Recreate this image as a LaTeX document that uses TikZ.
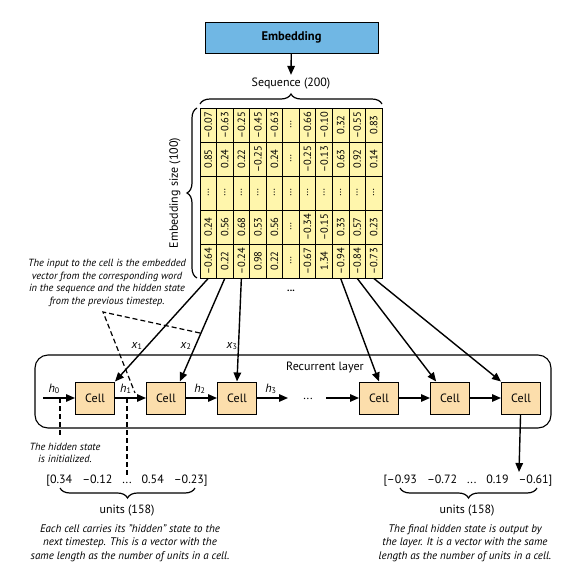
\documentclass[tikz,border=0pt]{standalone}
\usepackage{fontspec}
\setmainfont{PT Sans}
\usetikzlibrary{positioning,arrows.meta,decorations.pathreplacing}

\definecolor{embblue}{RGB}{112,183,228}
\definecolor{gridyellow}{RGB}{255,246,172}
\definecolor{cellpeach}{RGB}{252,222,172}

\begin{document}
\begin{tikzpicture}[x=1pt,y=-1pt,node distance=71pt,on grid,
   >={Triangle[length=9pt,width=7.5pt]},
   flow/.style={->,line width=1.4pt},
   cell/.style={draw,line width=1pt,fill=cellpeach,minimum width=39pt,minimum height=32pt,
     font=\fontsize{12}{14}\selectfont},
   num/.style={draw,line width=0.7pt,fill=gridyellow,inner sep=0pt,minimum width=16.55pt,
     minimum height=34pt,font=\fontsize{10.5}{12}\selectfont},
   note/.style={align=center,font=\fontsize{10.4}{12.6}\selectfont\itshape},
   txt/.style={font=\fontsize{12}{14}\selectfont},
   brace/.style={decorate,decoration={brace,amplitude=10pt},line width=1.2pt},
   hint/.style={dashed,line width=1.2pt,dash pattern=on 5pt off 3pt}]
   \useasboundingbox (0,0) rectangle (571,573);

   % embedding layer
   \node[draw,line width=1pt,fill=embblue,minimum width=173pt,minimum height=31pt,
     font=\fontsize{12.5}{14}\selectfont\bfseries] (emb) at (291.5,37.5) {Embedding};
   \node[txt] (seq) at (291,84) {Sequence (200)};
   \draw[flow] (emb) -- (seq.north);

   % embedded sequence
   \foreach \c/\col in {1/{--0.07,0.85,\ldots,0.24,--0.64},
                        2/{--0.63,0.24,\ldots,0.56,0.22},
                        3/{--0.25,0.22,\ldots,0.68,--0.24},
                        4/{--0.45,--0.25,\ldots,0.53,0.98},
                        5/{--0.63,0.24,\ldots,0.56,0.22},
                        6/{\ldots,\ldots,\ldots,\ldots,\ldots},
                        7/{--0.66,--0.25,\ldots,--0.34,--0.67},
                        8/{--0.10,--0.13,\ldots,--0.15,1.34},
                        9/{0.32,0.63,\ldots,0.33,--0.94},
                        10/{--0.55,0.92,\ldots,0.57,--0.84},
                        11/{0.83,0.14,\ldots,0.23,--0.73}}
     \foreach \v [count=\r] in \col
       \node[num] (m-\c-\r) at ({200+16.545*(\c-0.5)},{108+34*(\r-0.5)}) {\rotatebox{90}{\v}};

   \draw[brace] (200,104) -- (382,104);
   \draw[brace] (197,278) -- (197,108);
   \node[txt,rotate=90] (embsize) at (175,193) {Embedding size (100)};
   \node[font=\bfseries] (more) at (291,291) {...};

   % recurrent layer
   \node[draw,line width=1.1pt,rounded corners=13pt,minimum width=516pt,minimum height=73pt]
     (layer) at (293,391.5) {};
   \node[txt] (layername) at (325,367) {Recurrent layer};
   \node[cell] (c1) at (95,398) {Cell};
   \node[cell,right=of c1] (c2) {Cell};
   \node[cell,right=of c2] (c3) {Cell};
   \node[cell,right=142pt of c3] (c4) {Cell};
   \node[cell,right=of c4] (c5) {Cell};
   \node[cell,right=of c5] (c6) {Cell};
   \coordinate (h0) at (43,398);
   \coordinate (h3) at (288,398);
   \node[txt] (gap) at (308,399) {...};
   \coordinate (gapend) at (326,398);

   \path[flow]
   (h0) edge node[above,txt,pos=0.35] {\textit{h}\textsubscript{0}} (c1)
   (c1) edge node[above,txt,pos=0.35] {\textit{h}\textsubscript{1}} (c2)
   (c2) edge node[above,txt,pos=0.45] {\textit{h}\textsubscript{2}} (c3)
   (c3) edge node[above,txt,pos=0.45] {\textit{h}\textsubscript{3}} (h3)
   (gapend) edge (c4)
   (c4) edge (c5)
   (c5) edge (c6);

   % inputs
   \path[flow]
   (m-1-5.south) edge (c1.north east)
   (m-2-5.south) edge (c2.50)
   (m-3-5.south) edge (c3.north)
   (m-9-5.south) edge (c4.north)
   (m-10-5.south) edge (c5.130)
   (m-11-5.south) edge (c6.north west);
   \node[txt] (x1) at (137,346) {\textit{x}\textsubscript{1}};
   \node[txt] (x2) at (186,346) {\textit{x}\textsubscript{2}};
   \node[txt] (x3) at (232,346) {\textit{x}\textsubscript{3}};

   \node[note] (inputnote) at (107,283) {The input to the cell is the embedded\\
     vector from the corresponding word\\in the sequence and the hidden state\\
     from the previous timestep.};
   \coordinate (apex) at (103,312);
   \coordinate (onx2) at (200,333);
   \coordinate (onh1) at (135,393);
   \draw[hint] (onx2) -- (apex) -- (onh1);

   % initial state
   \coordinate (initend) at (60,437);
   \draw[hint] (60,398) -- (initend);
   \node[note] (initnote) at (65,453) {The hidden state\\is initialized.};

   % hidden state vector
   \node[txt] (hvec) at (127,481) {[0.34\hspace{10pt}--0.12\hspace{10pt}...\hspace{10pt}0.54\hspace{10pt}--0.23]};
   \coordinate (h1top) at (127,398);
   \coordinate (h1end) at (127,475);
   \draw[hint] (h1top) -- (h1end);
   \draw[brace] (195,488) -- (60,488);
   \node[txt] (hunits) at (127,511) {units (158)};
   \node[note,font=\fontsize{11}{13.5}\selectfont\itshape] (hnote) at (130,543)
     {Each cell carries its "hidden" state to the\\
     next timestep. This is a vector with the\\same length as the number of units in a cell.};

   % output vector
   \node[txt] (ovec) at (468,481) {[--0.93\hspace{10pt}--0.72\hspace{10pt}...\hspace{10pt}0.19\hspace{10pt}--0.61]};
   \coordinate (outend) at (519,472);
   \draw[flow] (c6) -- (outend);
   \draw[brace] (537,488) -- (400,488);
   \node[txt] (ounits) at (467,511) {units (158)};
   \node[note,font=\fontsize{11}{13.5}\selectfont\itshape] (onote) at (465,543)
     {The final hidden state is output by\\
     the layer. It is a vector with the same\\length as the number of units in a cell.};
\end{tikzpicture}
\end{document}
